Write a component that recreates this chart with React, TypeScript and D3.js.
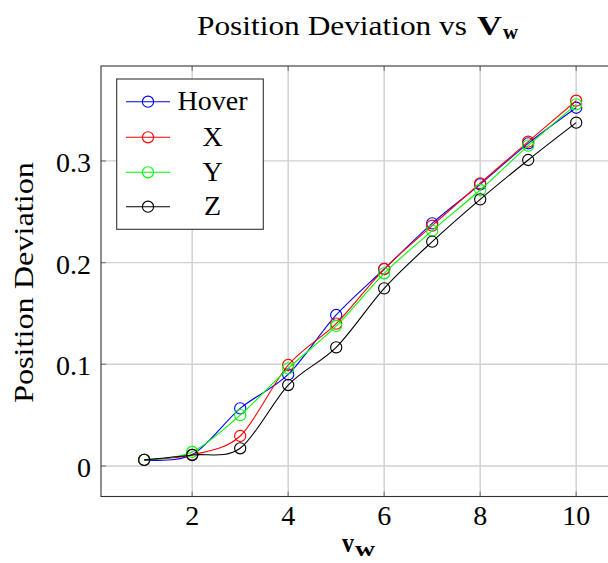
import React from "react";
import * as d3 from "d3";

const xs = [1, 2, 3, 4, 5, 6, 7, 8, 9, 10];
const hover = [0.006, 0.011, 0.0567, 0.090, 0.1485, 0.1937, 0.2386, 0.277, 0.3173, 0.3523];
const xSeries = [0.006, 0.011, 0.0295, 0.0993, 0.140, 0.1937, 0.2363, 0.278, 0.3189, 0.3592];
const ySeries = [0.006, 0.0138, 0.050, 0.096, 0.1377, 0.1895, 0.2314, 0.2714, 0.315, 0.3556];
const zSeries = [0.006, 0.0108, 0.0174, 0.0796, 0.1167, 0.1747, 0.2206, 0.2622, 0.3009, 0.3376];

const seriesNames = ["Hover", "X", "Y", "Z"];
const seriesColors = ["#0000ff", "#ff0000", "#00ff00", "#000000"];
const seriesValues = [hover, xSeries, ySeries, zSeries];

const xTicks = [2, 4, 6, 8, 10];
const yTicks = [0, 0.1, 0.2, 0.3];

const W = 608;
const H = 563;
const FONT = "'Liberation Serif', 'DejaVu Serif', serif";
const FS = 28;

export default function App() {
  const x = d3.scaleLinear().domain([0.1, 10.9]).range([101, 619.4]);
  const y = d3.scaleLinear().domain([-0.0305, 0.3955]).range([497, 63.8]);
  const left = 101;
  const right = 619.4;
  const top = 66;
  const bottom = 496.5;

  const line = d3
    .line<[number, number]>()
    .x((d) => x(d[0]))
    .y((d) => y(d[1]))
    .curve(d3.curveCardinal.tension(0.08));

  const legendRows = [101.7, 137.3, 172.3, 206.7];

  return (
    <svg
      width={W}
      height={H}
      style={{ position: "absolute", left: 0, top: 0, background: "#fff" }}
      fontFamily={FONT}
    >
      <rect x={0} y={0} width={W} height={H} fill="#fff" />
      {/* grid */}
      {xTicks.map((t) => (
        <line key={"gx" + t} x1={x(t)} x2={x(t)} y1={top} y2={bottom} stroke="#d0d0d0" strokeWidth={1.4} />
      ))}
      {yTicks.map((t) => (
        <line key={"gy" + t} x1={left} x2={right} y1={y(t)} y2={y(t)} stroke="#d0d0d0" strokeWidth={1.4} />
      ))}
      {/* tick marks */}
      {xTicks.map((t) => (
        <g key={"tx" + t} stroke="#8a8a8a" strokeWidth={1.4}>
          <line x1={x(t)} x2={x(t)} y1={bottom} y2={bottom - 5} />
          <line x1={x(t)} x2={x(t)} y1={top} y2={top + 5} />
        </g>
      ))}
      {yTicks.map((t) => (
        <line key={"ty" + t} x1={left} x2={left + 5} y1={y(t)} y2={y(t)} stroke="#8a8a8a" strokeWidth={1.4} />
      ))}
      {/* axis frame */}
      <rect x={left} y={top} width={right - left} height={bottom - top} fill="none" stroke="#333" strokeWidth={1.1} />

      {/* series */}
      {seriesValues.map((vals, i) => {
        const pts = xs.map((xv, j) => [xv, vals[j]] as [number, number]);
        return (
          <g key={seriesNames[i]}>
            <path d={line(pts) || ""} fill="none" stroke={seriesColors[i]} strokeWidth={1.1} />
            {pts.map((p, j) => (
              <circle key={j} cx={x(p[0])} cy={y(p[1])} r={5.6} fill="none" stroke={seriesColors[i]} strokeWidth={1.1} />
            ))}
          </g>
        );
      })}

      {/* tick labels */}
      {xTicks.map((t) => (
        <text key={"lx" + t} x={x(t)} y={525} textAnchor="middle" fontSize={FS} fill="#000">
          {t}
        </text>
      ))}
      {yTicks.map((t) => (
        <text key={"ly" + t} x={91} y={y(t) + 11} textAnchor="end" fontSize={FS} fill="#000">
          {t === 0 ? "0" : t.toFixed(1)}
        </text>
      ))}

      {/* legend */}
      <rect x={116.7} y={79} width={146.6} height={150.3} fill="#fff" stroke="#333" strokeWidth={1.1} />
      {seriesNames.map((n, i) => (
        <g key={"lg" + n}>
          <line x1={126} x2={170} y1={legendRows[i]} y2={legendRows[i]} stroke={seriesColors[i]} strokeWidth={1.1} />
          <circle cx={148} cy={legendRows[i]} r={5.6} fill="none" stroke={seriesColors[i]} strokeWidth={1.1} />
          <text x={212.5} y={legendRows[i] + 8.3} textAnchor="middle" fontSize={FS} fill="#000">
            {n}
          </text>
        </g>
      ))}

      {/* title */}
      <text x={197} y={35} fontSize={FS} fill="#000" textLength={270} lengthAdjust="spacingAndGlyphs">
        Position Deviation vs
      </text>
      <text x={477} y={35} fontSize={FS} fontWeight="bold" fill="#000" textLength={25} lengthAdjust="spacingAndGlyphs">
        V
      </text>
      <text x={503} y={39} fontSize={20} fontWeight="bold" fill="#000" textLength={15} lengthAdjust="spacingAndGlyphs">
        w
      </text>

      {/* axis labels */}
      <text x={342} y={552} fontSize={FS} fontWeight="bold" fill="#000" textLength={12} lengthAdjust="spacingAndGlyphs">
        v
      </text>
      <text x={355} y={556} fontSize={20} fontWeight="bold" fill="#000" textLength={20} lengthAdjust="spacingAndGlyphs">
        w
      </text>
      <text
        transform={`translate(33, 282.5) rotate(-90)`}
        textAnchor="middle"
        fontSize={FS}
        fill="#000"
        textLength={241}
        lengthAdjust="spacingAndGlyphs"
      >
        Position Deviation
      </text>
    </svg>
  );
}
